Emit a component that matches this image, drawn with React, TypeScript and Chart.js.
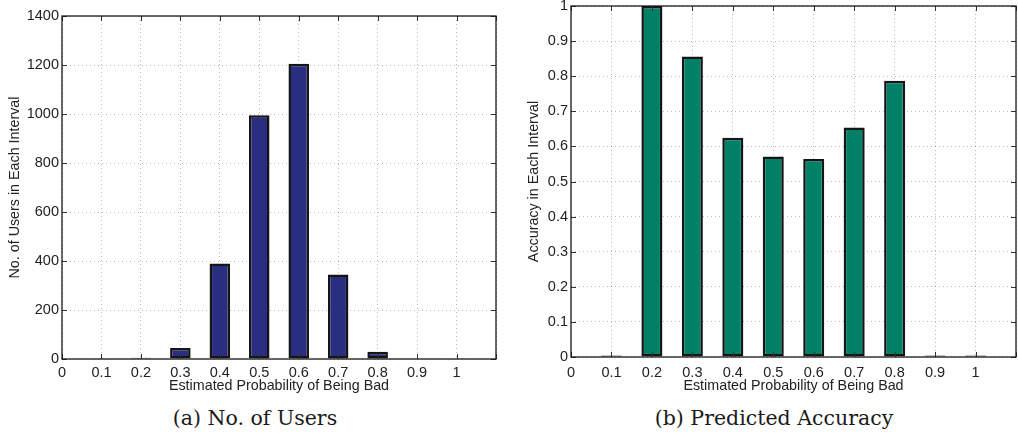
import React, { useEffect, useRef } from "react";
import { Chart, registerables } from "chart.js";

Chart.register(...registerables);

// ---- data ----
const binCenters = [0.1, 0.2, 0.3, 0.4, 0.5, 0.6, 0.7, 0.8, 0.9, 1.0];
const userCounts = [3, 5, 45, 390, 995, 1205, 345, 30, 2, 3];
const accuracyValues = [0.004, 1.0, 0.856, 0.625, 0.571, 0.564, 0.654, 0.787, 0.004, 0.004];

const xTickValues = [0, 0.1, 0.2, 0.3, 0.4, 0.5, 0.6, 0.7, 0.8, 0.9, 1.0, 1.1];
const xTickLabels = ["0", "0.1", "0.2", "0.3", "0.4", "0.5", "0.6", "0.7", "0.8", "0.9", "1", ""];
const usersYTicks = [0, 200, 400, 600, 800, 1000, 1200, 1400];
const accYTicks = [0, 0.1, 0.2, 0.3, 0.4, 0.5, 0.6, 0.7, 0.8, 0.9, 1];

const xTitle = "Estimated Probability of Being Bad";
const usersYTitle = "No. of Users in Each Interval";
const accYTitle = "Accuracy in Each Interval";
const captionA = "(a) No. of Users";
const captionB = "(b) Predicted Accuracy";

const SANS = "'Liberation Sans', Arial, sans-serif";
const fmt = (v: number) => String(Math.round(Number(v) * 1000) / 1000);

// Draws the MATLAB-style box with inward tick marks, using the chart's scales
const boxPlugin = {
  id: "matlabBox",
  afterDatasetsDraw(chart: any) {
    const { ctx, chartArea: a, scales } = chart;
    const L = 5;
    ctx.save();
    ctx.strokeStyle = "#333";
    ctx.lineWidth = 1;
    ctx.beginPath();
    scales.x.ticks.forEach((_t: any, i: number) => {
      const px = Math.round(scales.x.getPixelForTick(i)) + 0.5;
      ctx.moveTo(px, a.bottom);
      ctx.lineTo(px, a.bottom - L);
      ctx.moveTo(px, a.top);
      ctx.lineTo(px, a.top + L);
    });
    scales.y.ticks.forEach((_t: any, i: number) => {
      const py = Math.round(scales.y.getPixelForTick(i)) + 0.5;
      ctx.moveTo(a.left, py);
      ctx.lineTo(a.left + L, py);
      ctx.moveTo(a.right, py);
      ctx.lineTo(a.right - L, py);
    });
    ctx.stroke();
    ctx.strokeStyle = "#1a1a1a";
    ctx.lineWidth = 1.3;
    ctx.strokeRect(a.left, a.top, a.right - a.left, a.bottom - a.top);
    ctx.restore();
  },
};

type PanelProps = {
  values: number[];
  color: string;
  yTicks: number[];
  yTitle: string;
  width: number;
  height: number;
  yAxisWidth: number;
  xAxisHeight: number;
  padTop: number;
  padRight: number;
  tickPad: number;
  yTitlePad: number;
};

function BarPanel(p: PanelProps) {
  const ref = useRef<HTMLCanvasElement | null>(null);
  useEffect(() => {
    if (!ref.current) return;
    const data = binCenters.map((x, i) => ({ x, y: p.values[i] }));
    const chart = new Chart(ref.current, {
      type: "bar",
      data: {
        datasets: [
          {
            data: data as any,
            backgroundColor: p.color,
            borderColor: "#151515",
            borderWidth: 2.5,
            borderSkipped: false,
            barPercentage: 0.52,
            categoryPercentage: 1,
          },
        ],
      },
      plugins: [boxPlugin],
      options: {
        animation: false,
        responsive: false,
        maintainAspectRatio: false,
        layout: { padding: { top: p.padTop, right: p.padRight, left: 0, bottom: 0 } },
        plugins: { legend: { display: false }, tooltip: { enabled: false } },
        scales: {
          x: {
            type: "linear",
            min: xTickValues[0],
            max: xTickValues[xTickValues.length - 1],
            offset: false,
            grid: { offset: false, color: "rgba(0,0,0,0.28)", drawTicks: false, lineWidth: 1 },
            border: { display: false, dash: [1, 3] },
            afterBuildTicks: (s: any) => {
              s.ticks = xTickValues.map((v) => ({ value: v }));
            },
            ticks: {
              autoSkip: false,
              maxRotation: 0,
              padding: p.tickPad,
              color: "#222",
              font: { family: SANS, size: 14.5 },
              callback: (_v: any, i: number) => xTickLabels[i],
            },
            title: {
              display: true,
              text: xTitle,
              color: "#222",
              font: { family: SANS, size: 14.3 },
              padding: { top: 0, bottom: 5 },
            },
            afterFit: (s: any) => {
              s.height = p.xAxisHeight;
              s.paddingLeft = 0;
              s.paddingRight = 0;
            },
          },
          y: {
            type: "linear",
            min: p.yTicks[0],
            max: p.yTicks[p.yTicks.length - 1],
            grid: { color: "rgba(0,0,0,0.28)", drawTicks: false, lineWidth: 1 },
            border: { display: false, dash: [1, 3] },
            afterBuildTicks: (s: any) => {
              s.ticks = p.yTicks.map((v) => ({ value: v }));
            },
            ticks: {
              padding: 3,
              color: "#222",
              font: { family: SANS, size: 14.5 },
              callback: (v: any) => fmt(v),
            },
            title: {
              display: true,
              text: p.yTitle,
              color: "#222",
              font: { family: SANS, size: 14.3 },
              padding: { top: p.yTitlePad, bottom: 0 },
            },
            afterFit: (s: any) => {
              s.width = p.yAxisWidth;
              s.paddingTop = 0;
              s.paddingBottom = 0;
            },
          },
        },
      },
    });
    return () => chart.destroy();
  }, []);
  return (
    <canvas
      ref={ref}
      width={p.width}
      height={p.height}
      style={{ display: "block", width: p.width, height: p.height }}
    />
  );
}

const captionStyle: React.CSSProperties = {
  position: "absolute",
  width: 320,
  top: 403,
  textAlign: "center",
  fontFamily: "'DejaVu Serif', serif",
  fontSize: 20.5,
  lineHeight: "30px",
  color: "#1a1a1a",
  whiteSpace: "nowrap",
};

export default function App() {
  return (
    <div
      style={{
        position: "absolute",
        left: 0,
        top: 0,
        width: 1018,
        height: 435,
        background: "#fff",
        overflow: "hidden",
      }}
    >
      <div style={{ position: "absolute", left: 0, top: 0 }}>
        <BarPanel
          values={userCounts}
          color="#2a2e80"
          yTicks={usersYTicks}
          yTitle={usersYTitle}
          width={505}
          height={400}
          yAxisWidth={62}
          xAxisHeight={41}
          padTop={16}
          padRight={9}
          tickPad={5}
          yTitlePad={6}
        />
      </div>
      <div style={{ position: "absolute", left: 505, top: 0 }}>
        <BarPanel
          values={accuracyValues}
          color="#008066"
          yTicks={accYTicks}
          yTitle={accYTitle}
          width={513}
          height={400}
          yAxisWidth={66}
          xAxisHeight={43}
          padTop={6}
          padRight={2}
          tickPad={7}
          yTitlePad={20}
        />
      </div>
      <div style={{ ...captionStyle, left: 255 - 160 }}>{captionA}</div>
      <div style={{ ...captionStyle, left: 774 - 160 }}>{captionB}</div>
    </div>
  );
}
